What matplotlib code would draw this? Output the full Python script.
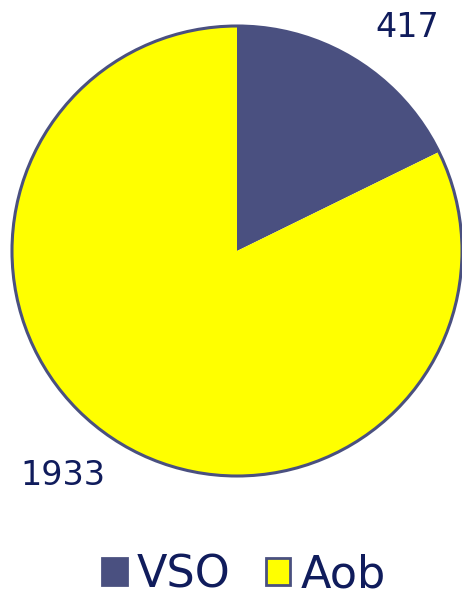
import matplotlib
matplotlib.use("Agg")
import matplotlib.pyplot as plt
from matplotlib.patches import Patch

# Data
categories = ["VSO", "Aob"]
values = [417, 1933]
colors = ["#4a5080", "#ffff00"]

text_color = "#101c5c"
edge_color = "#4a5080"

fig = plt.figure(figsize=(4.62, 5.96), dpi=100)
ax = fig.add_axes([12 / 462, 120 / 596, 450 / 462, 450 / 596])

wedges, _ = ax.pie(
    values,
    colors=colors,
    startangle=90,
    counterclock=False,
    radius=1.0,
    wedgeprops={"linewidth": 0},
)
for w in wedges:
    w.set_clip_on(False)

# Outer outline
outline = plt.Circle((0, 0), 1.0, fill=False, edgecolor=edge_color,
                     linewidth=2.2, clip_on=False)
ax.add_patch(outline)

ax.set_xlim(-1, 1)
ax.set_ylim(-1, 1)
ax.set_aspect("equal")
ax.axis("off")

# Value labels
ax.text(0.756, 0.995, str(values[0]), ha="center", va="center",
        fontsize=24, color=text_color)
ax.text(-0.773, -0.996, str(values[1]), ha="center", va="center",
        fontsize=24, color=text_color)

# Legend
handles = [Patch(facecolor=c, edgecolor=edge_color, linewidth=2) for c in colors]
fig.legend(
    handles, categories,
    loc="center", bbox_to_anchor=(244 / 462, 1 - 575 / 596),
    ncol=2, frameon=False, fontsize=32,
    handlelength=0.55, handleheight=0.55, handletextpad=0.22,
    columnspacing=0.8, labelcolor=text_color,
    borderaxespad=0, borderpad=0.1,
)

fig.savefig("out.png", dpi=100)
